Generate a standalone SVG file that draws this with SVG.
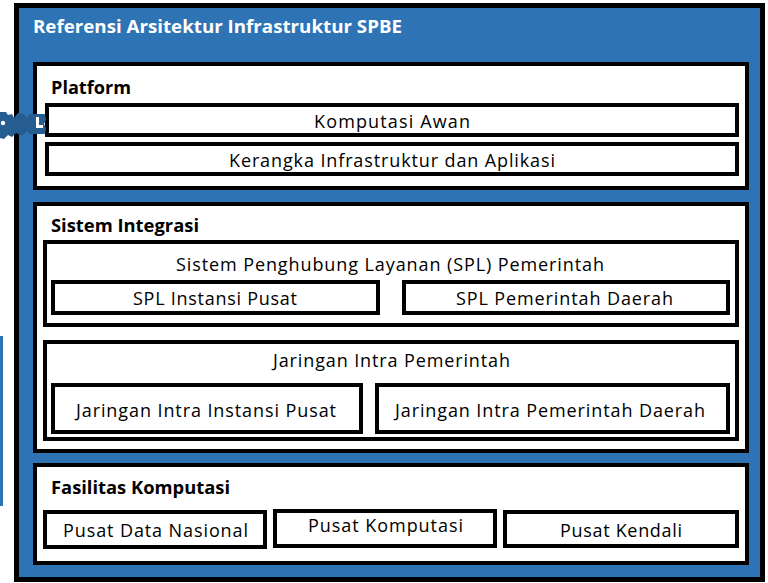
<svg xmlns="http://www.w3.org/2000/svg" width="768" height="583" viewBox="0 0 768 583">
<style>
.panel{fill:#ffffff;stroke:#000000;stroke-width:4}
.box{fill:#ffffff;stroke:#000000;stroke-width:4}
.t{font-family:"Open Sans","Noto Sans","Liberation Sans",sans-serif;font-size:18px;fill:#000000}
.b{font-family:"Open Sans","Noto Sans","Liberation Sans",sans-serif;font-size:17px;font-weight:bold;fill:#000000}
.w{fill:#ffffff}
.art{fill:#265d91}
</style>
<rect x="0" y="0" width="768" height="583" fill="#ffffff"/>
<rect x="0" y="336" width="3" height="170" fill="#2e74b5"/>
<g id="outer">
<rect x="16.5" y="5.5" width="746" height="574" fill="#2e74b5" stroke="#000000" stroke-width="5"/>
<text class="b w" x="33" y="33" textLength="369" lengthAdjust="spacingAndGlyphs">Referensi Arsitektur Infrastruktur SPBE</text>
</g>
<g id="platform">
<rect class="panel" x="35" y="64" width="712" height="124"/>
<text class="b" x="51" y="94" textLength="80" lengthAdjust="spacingAndGlyphs">Platform</text>
</g>
<g id="komputasi-awan">
<rect class="box" x="47" y="105" width="690" height="30"/>
<text class="t" x="314" y="128" textLength="156" lengthAdjust="spacing">Komputasi Awan</text>
</g>
<g id="kerangka">
<rect class="box" x="47" y="144" width="690" height="30"/>
<text class="t" x="229" y="167" textLength="326" lengthAdjust="spacing">Kerangka Infrastruktur dan Aplikasi</text>
</g>
<g id="sistem-integrasi">
<rect class="panel" x="35" y="204" width="712" height="247"/>
<text class="b" x="51" y="232" textLength="148" lengthAdjust="spacingAndGlyphs">Sistem Integrasi</text>
</g>
<g id="spl">
<rect class="box" x="45" y="242" width="692" height="83"/>
<text class="t" x="176" y="271" textLength="428" lengthAdjust="spacing">Sistem Penghubung Layanan (SPL) Pemerintah</text>
</g>
<g id="spl-pusat">
<rect class="box" x="53" y="282" width="325" height="31"/>
<text class="t" x="133" y="305" textLength="164" lengthAdjust="spacing">SPL Instansi Pusat</text>
</g>
<g id="spl-daerah">
<rect class="box" x="404" y="282" width="324" height="31"/>
<text class="t" x="456" y="305" textLength="217" lengthAdjust="spacing">SPL Pemerintah Daerah</text>
</g>
<g id="jip">
<rect class="box" x="45" y="342" width="692" height="97"/>
<text class="t" x="273" y="367" textLength="237" lengthAdjust="spacing">Jaringan Intra Pemerintah</text>
</g>
<g id="jip-pusat">
<rect class="box" x="53" y="385" width="308" height="47"/>
<text class="t" x="76" y="417" textLength="260" lengthAdjust="spacing">Jaringan Intra Instansi Pusat</text>
</g>
<g id="jip-daerah">
<rect class="box" x="377" y="385" width="351" height="47"/>
<text class="t" x="395" y="417" textLength="310" lengthAdjust="spacing">Jaringan Intra Pemerintah Daerah</text>
</g>
<g id="fasilitas">
<rect class="panel" x="35" y="465" width="712" height="98"/>
<text class="b" x="51" y="494" textLength="179" lengthAdjust="spacingAndGlyphs">Fasilitas Komputasi</text>
</g>
<g id="pusat-data">
<rect class="box" x="45" y="512" width="220" height="35"/>
<text class="t" x="63" y="537" textLength="185" lengthAdjust="spacing">Pusat Data Nasional</text>
</g>
<g id="pusat-komputasi">
<rect class="box" x="275" y="511" width="220" height="35"/>
<text class="t" x="308" y="532" textLength="155" lengthAdjust="spacing">Pusat Komputasi</text>
</g>
<g id="pusat-kendali">
<rect class="box" x="505" y="512" width="232" height="34"/>
<text class="t" x="560" y="537" textLength="122" lengthAdjust="spacing">Pusat Kendali</text>
</g>
<g id="connectors"/>
<g id="artifact">
<path class="art" d="M0 112 L6 112 L8 115 L12 114 L14 118 L18 113 L24 114 L27 118 L30 114 L45 114 L46 120 L44 124 L46 128 L45 134 L30 134 L27 131 L22 136 L16 133 L12 137 L8 135 L4 139 L0 138 Z"/>
<circle cx="3" cy="123" r="2.2" fill="#ffffff"/>
<path d="M36 117 L39 117 L39 125 L43 125 L43 128 L36 128 Z" fill="#ffffff"/>
</g>
</svg>
